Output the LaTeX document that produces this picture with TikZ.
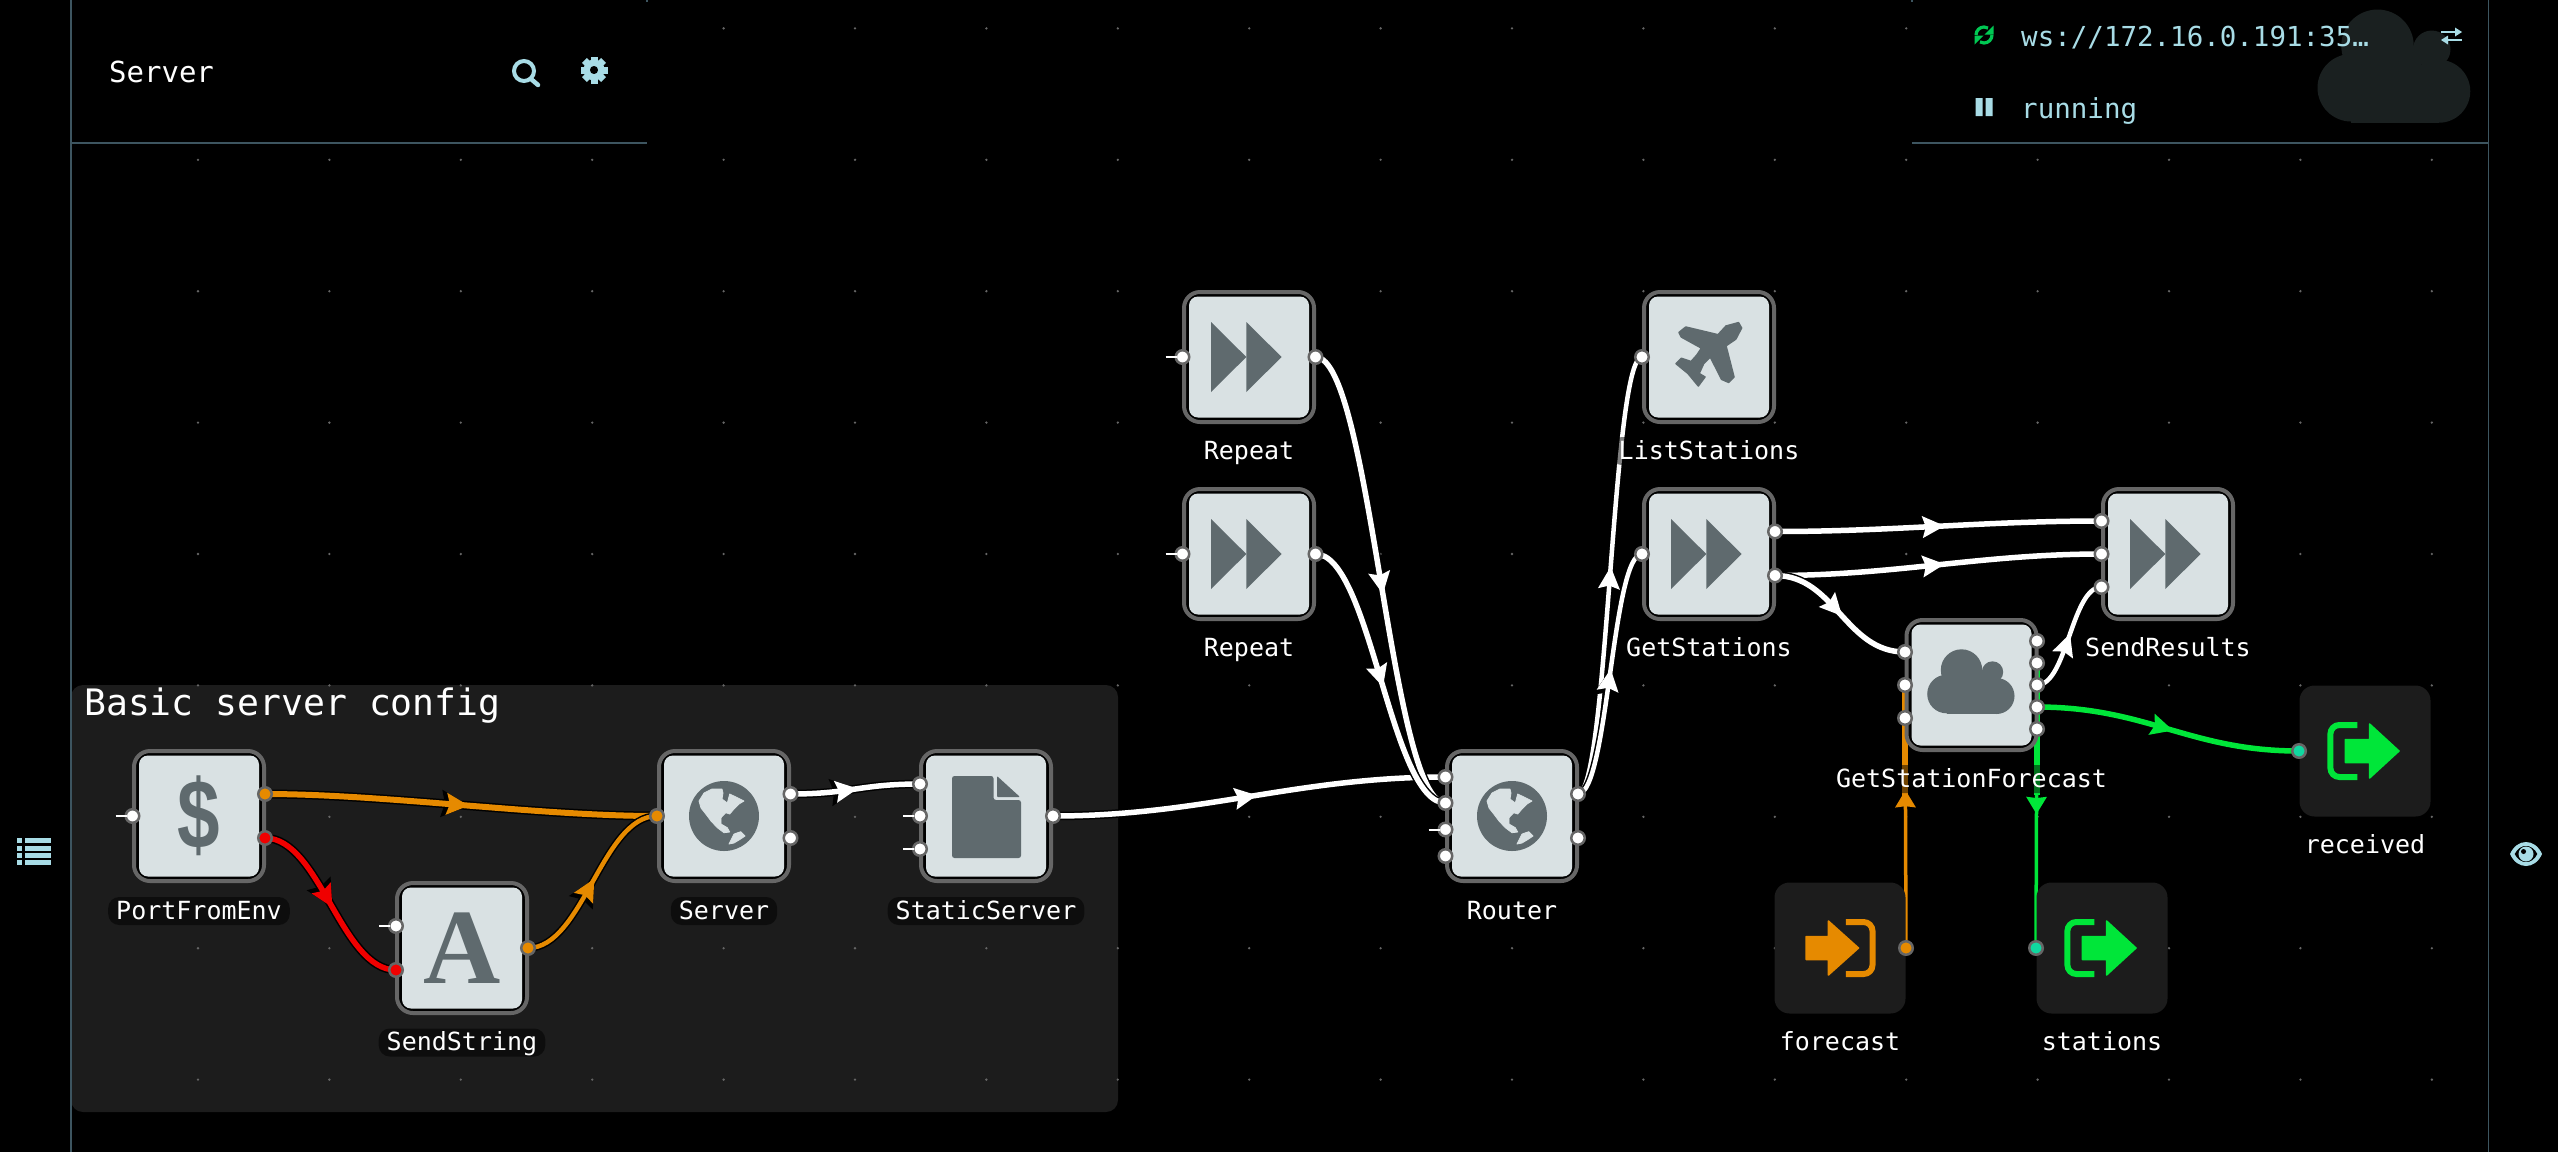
\documentclass[tikz,border=0pt]{standalone}
\usepackage{fontspec}
\setmainfont{DejaVu Sans Mono}
\newfontfamily\serifglyph{Liberation Serif}
\newfontfamily\sansglyph{Liberation Sans}
\usetikzlibrary{arrows.meta,decorations.markings}
\pgfdeclarelayer{bgl}
\pgfdeclarelayer{edges}
\pgfsetlayers{bgl,edges,main}
\definecolor{nodefill}{HTML}{D9E1E3}
\definecolor{icongrey}{HTML}{5F6A6E}
\definecolor{ringgrey}{HTML}{666666}
\definecolor{grp}{HTML}{1C1C1C}
\definecolor{uiblue}{HTML}{A8DCE6}
\definecolor{linegrey}{HTML}{3D5560}
\definecolor{eorange}{HTML}{E68A00}
\definecolor{ered}{HTML}{F00000}
\definecolor{egreen}{HTML}{00E639}
\definecolor{eteal}{HTML}{10D8A0}
\definecolor{bgcloud}{HTML}{1A2020}
\definecolor{syncgreen}{HTML}{00C853}
\tikzset{
  nodebox/.style={draw=ringgrey,fill=black,line width=4pt,minimum size=130pt,rounded corners=16pt,inner sep=0pt},
  nodeinner/.style={fill=nodefill,minimum width=120pt,minimum height=121pt,rounded corners=9pt,inner sep=0pt},
  exportbox/.style={fill=grp,minimum width=131pt,minimum height=131pt,rounded corners=15pt,inner sep=0pt},
  portdot/.style={circle,fill=white,draw=ringgrey,line width=2.5pt,minimum size=13.5pt,inner sep=0pt},
  nodelabel/.style={fill=black,fill opacity=.5,text opacity=1,text=white,rounded corners=11pt,inner xsep=8pt,inner ysep=0pt,
     minimum height=28pt,text height=18pt,text depth=2pt,font=\fontsize{25}{30}\selectfont},
  stub/.style={draw=white,line width=2pt},
  uitext/.style={text=uiblue,inner sep=0pt,anchor=base west,font=\fontsize{27.5}{32}\selectfont},
}
% wire: colour, from, to, handle, arrow position, width
\newcommand{\wire}[6]{%
  \begin{pgfonlayer}{edges}
  \draw[black,line width=#6pt+3pt,decoration={markings,mark=at position #5 with {\arrow{Stealth[length=27pt,width=26pt,inset=3pt]}}},postaction={decorate}]
     (#2.center) .. controls +(#4,0) and +(-#4,0) .. (#3.center);
  \draw[#1,line width=#6pt,decoration={markings,mark=at position #5 with {\arrow{Stealth[length=22pt,width=21pt,inset=3pt]}}},postaction={decorate}]
     (#2.center) .. controls +(#4,0) and +(-#4,0) .. (#3.center);
  \end{pgfonlayer}}
% straight wire: colour, from, to, arrow position, width
\newcommand{\straightwire}[5]{%
  \begin{pgfonlayer}{edges}
  \draw[#1,line width=#5pt,decoration={markings,mark=at position #4 with {\arrow{Stealth[length=17pt,width=20pt,inset=1pt]}}},postaction={decorate}]
     (#2.center) -- (#3.center);
  \end{pgfonlayer}}
\newcommand{\flowbox}[3]{%
  \node[nodebox] (#1) at (#2,#3) {};
  \node[nodeinner] (#1-in) at (#2,#3) {};}
\newcommand{\portat}[4][white]{\node[portdot,fill=#1] (#2) at (#3,#4) {};}
\newcommand{\stubat}[1]{\draw[stub] ([xshift=-17pt]#1.center) -- ([xshift=-6pt]#1.center);}
\newcommand{\ffwd}[2]{\begin{scope}[shift={(#1,#2)}]
  \fill[icongrey] (-38,-35) -- (-2.7,0) -- (-38,35) -- cycle;
  \fill[icongrey] (-2.7,-35) -- (32.6,0) -- (-2.7,35) -- cycle;
\end{scope}}
\newcommand{\globe}[2]{\begin{scope}[shift={(#1,#2)}]
  \fill[icongrey] (0,0) circle[radius=35];
  \filldraw[nodefill,line width=.8pt,line join=round] (-25,-15) -- (-20,-23) -- (-12,-27) -- (-2,-27) -- (-1,-23) -- (-2,-17) -- (3.3,-13) -- (5.7,-22) -- (12,-19) -- (20,-15) -- (15,-12) -- (10,-7) -- (5.7,-2) -- (1.7,-3.3) -- (-3,1.7) -- (-3,8) -- (3.3,11.7) -- (5.7,16) -- (0,16.7) -- (-6.7,11.7) -- (-13,5) -- (-18,-1.7) -- (-23,-8) -- cycle;
  \filldraw[nodefill,line width=.8pt,line join=round] (5,28) -- (10,18) -- (16.7,15.7) -- (21,20) -- (15,24) -- (10,27) -- cycle;
\end{scope}}
\newcommand{\cloudicon}[4]{\begin{scope}[shift={(#1,#2)},scale=#3]
  \fill[#4] (-25,9) circle[radius=19.3];
  \fill[#4] (-10,-15) circle[radius=20.7];
  \fill[#4] (21,-13) circle[radius=10.7];
  \fill[#4] (25,11) circle[radius=18];
  \fill[#4] (-25,0) rectangle (25,29);
  \fill[#4] (-15,-15) rectangle (15,10);
\end{scope}}
\newcommand{\exiticon}[3]{\begin{scope}[shift={(#1,#2)}]
  \draw[#3,line width=6pt,rounded corners=9pt] (-7.7,-26) -- (-34.6,-26) -- (-34.6,26) -- (-7.7,26);
  \filldraw[#3,line width=1.5pt,line join=round] (-19.6,-11.5) -- (4.6,-11.5) -- (4.6,-27) -- (34,0) -- (4.6,27) -- (4.6,11.5) -- (-19.6,11.5) -- cycle;
\end{scope}}
\begin{document}
\begin{tikzpicture}[x=1pt,y=-1pt]
\useasboundingbox (0,0) rectangle (2558,1152);
\begin{pgfonlayer}{bgl}
  \fill[black] (0,0) rectangle (2558,1152);
  \fill[grp] (71,685) [rounded corners=12pt] rectangle (1118,1112);
  \foreach \k in {-10,...,7} \foreach \j in {-4,...,4}
    \fill[white!40!black] ({1512+131.4*\k},{554+131.4*\j}) circle[radius=1.3];
  \fill[black] (71,0) rectangle (647,143);
  \fill[black] (1912,0) rectangle (2488,143);
\end{pgfonlayer}

% frame
\draw[linegrey,line width=1.5pt] (71,0) -- (71,1152);
\draw[linegrey,line width=1.5pt] (2488.5,0) -- (2488.5,1152);
\draw[linegrey,line width=2pt] (71,143) -- (647,143);
\draw[linegrey,line width=2pt] (1912,143) -- (2488,143);
\draw[linegrey,line width=2pt] (647,0) -- (647,2);
\draw[linegrey,line width=2pt] (1912,0) -- (1912,2);

% top left panel
\node[text=white,inner sep=0pt,anchor=base west,font=\fontsize{29}{34}\selectfont] (title) at (109,82) {Server};
\draw[uiblue,line width=4pt] (524,71) circle[radius=10];
\draw[uiblue,line width=4.5pt,line cap=round] (531,79) -- (538,85);
\foreach \a in {0,45,...,315}
  \fill[uiblue,rotate around={\a:(594,70)}] (590.5,56.5) rectangle (597.5,64);
\fill[uiblue,even odd rule] (594,70) circle[radius=10.5] (594,70) circle[radius=4.2];

% top right panel
\cloudicon{2395}{72}{1.75}{bgcloud}
\node[uitext] (wsurl) at (2021,46) {ws://172.16.0.191:35…};
\node[uitext] (state) at (2021,118) {running};
\draw[syncgreen,line width=3.2pt] (1976,35) arc[start angle=180,end angle=300,radius=8];
\draw[syncgreen,line width=3.2pt] (1992,35) arc[start angle=0,end angle=120,radius=8];
\fill[syncgreen] (1993.5,25.5) -- (1993.5,34.5) -- (1984.5,34.5) -- cycle;
\fill[syncgreen] (1974.5,44.5) -- (1974.5,35.5) -- (1983.5,35.5) -- cycle;
\fill[uiblue] (1975.5,98) rectangle (1982.5,116) (1985.5,98) rectangle (1992.5,116);
\draw[uiblue,line width=2.6pt] (2441,32) -- (2460,32);
\fill[uiblue] (2455,27.5) -- (2462,32) -- (2455,36.5) -- cycle;
\draw[uiblue,line width=2.6pt] (2443,40) -- (2462,40);
\fill[uiblue] (2448,35.5) -- (2441,40) -- (2448,44.5) -- cycle;

% side icons
\foreach \yy in {838,845.5,852.7,860}{
  \fill[uiblue] (17,\yy) rectangle (22,\yy+5);
  \fill[uiblue] (25,\yy) rectangle (51,\yy+5);
}
\fill[uiblue,even odd rule] (2510,854) .. controls (2517,838) and (2535,838) .. (2542,854) .. controls (2535,870) and (2517,870) .. (2510,854) -- cycle
  (2514.5,854) .. controls (2520,843) and (2532,843) .. (2537.5,854) .. controls (2532,865) and (2520,865) .. (2514.5,854) -- cycle;
\fill[uiblue] (2526,854) circle[radius=7.5];
\fill[black] (2523.5,851.5) circle[radius=2.5];

% group title
\node[text=white,inner sep=0pt,anchor=base west,font=\fontsize{36.4}{42}\selectfont] (grouptitle) at (84,715) {Basic server config};

% process nodes
\flowbox{portenv}{199}{816}
\flowbox{sendstr}{462}{948}
\flowbox{server}{724}{816}
\flowbox{static}{986}{816}
\flowbox{repeatA}{1249}{357}
\flowbox{repeatB}{1249}{554}
\flowbox{router}{1512}{816}
\flowbox{liststa}{1709}{357}
\flowbox{getsta}{1709}{554}
\flowbox{sendres}{2168}{554}
\flowbox{forecastnode}{1971.5}{685}
% exported ports
\node[exportbox] (expforecast) at (1840,948) {};
\node[exportbox] (expstations) at (2102,948) {};
\node[exportbox] (expreceived) at (2365,751) {};

% icons
\node[text=icongrey,inner sep=0pt,font=\sansglyph\bfseries\fontsize{98}{100}\selectfont] (dollar) at (199,816) {\scalebox{.78}[1]{\$}};
\node[text=icongrey,inner sep=0pt,anchor=base,font=\serifglyph\bfseries\fontsize{107}{110}\selectfont] (letterA) at (462,983) {A};
\globe{724}{816}
\globe{1512}{816}
\begin{scope}[shift={(986,816)}]
  \fill[icongrey,rounded corners=2.5pt] (-34,-40) -- (7.5,-40) -- (7.5,-16) -- (35,-16) -- (35,42) -- (-34,42) -- cycle;
  \fill[icongrey,rounded corners=1pt] (11,-40) -- (34,-19) -- (11,-19) -- cycle;
\end{scope}
\ffwd{1249}{357}
\ffwd{1249}{554}
\ffwd{1709}{554}
\ffwd{2168}{554}
\begin{scope}[shift={(1709,357)}]
  \filldraw[icongrey,line width=1.5pt,line join=round] (29.5,-34.4) -- (32.6,-29) -- (26.8,-17.9) -- (17,-11.2) -- (25,20) -- (19.6,25.4) -- (12.5,22.3) -- (1.3,0) -- (-5.4,6.7) -- (-9.8,16.5) -- (-4,20) -- (-10.7,29) -- (-21,16.5) -- (-33,6.7) -- (-27.7,1.3) -- (-17.9,4.5) -- (-12,-2.2) -- (-7.6,-8.9) -- (-27.7,-20) -- (-30,-24.6) -- (-23.2,-30) -- (9,-22.3) -- (17,-31) -- cycle;
\end{scope}
\cloudicon{1971.5}{685}{1}{icongrey}
% forecast: arrow enters a bracket
\begin{scope}[shift={(1840,948)}]
  \draw[eorange,line width=6pt,rounded corners=9pt] (5.9,-26) -- (32.5,-26) -- (32.5,26) -- (5.9,26);
  \filldraw[eorange,line width=1.5pt,line join=round] (-34,-11.5) -- (-11.6,-11.5) -- (-11.6,-27) -- (18.5,0) -- (-11.6,27) -- (-11.6,11.5) -- (-34,11.5) -- cycle;
\end{scope}
\exiticon{2102}{948}{egreen}
\exiticon{2365}{751}{egreen}

% ports
\portat{peIn}{132.5}{816}\stubat{peIn}
\portat[eorange]{peOutA}{265}{794}
\portat[ered]{peOutB}{265}{838}
\portat{ssInA}{396}{926}\stubat{ssInA}
\portat[ered]{ssInB}{396}{970}
\portat[eorange]{ssOut}{528}{948}
\portat[eorange]{svIn}{657}{816}
\portat{svOutA}{790.5}{794}
\portat{svOutB}{790.5}{838}
\portat{stInA}{920}{784}
\portat{stInB}{920}{816}\stubat{stInB}
\portat{stInC}{920}{849}\stubat{stInC}
\portat{stOut}{1053}{816}
\portat{raIn}{1182.5}{357}\stubat{raIn}
\portat{raOut}{1315.5}{357}
\portat{rbIn}{1182.5}{554}\stubat{rbIn}
\portat{rbOut}{1315.5}{554}
\portat{roInA}{1445.5}{777}
\portat{roInB}{1445.5}{803}
\portat{roInC}{1445.5}{829.5}\stubat{roInC}
\portat{roInD}{1445.5}{856}
\portat{roOutA}{1578}{794}
\portat{roOutB}{1578}{838}
\portat{lsIn}{1642}{357}
\portat{gsIn}{1642}{554}
\portat{gsOutA}{1775}{531.5}
\portat{gsOutB}{1775}{575.5}
\portat{srInA}{2101.5}{521}
\portat{srInB}{2101.5}{554}
\portat{srInC}{2101.5}{587}
\portat{fcInA}{1905}{652}
\portat{fcInB}{1905}{685}
\portat{fcInC}{1905}{718}
\portat{fcOutA}{2037}{641}
\portat{fcOutB}{2037}{663}
\portat{fcOutC}{2037}{685}
\portat{fcOutD}{2037}{707}
\portat{fcOutE}{2037}{729}
\portat[eorange]{xfOut}{1906}{948}
\portat[eteal]{xsIn}{2036}{948}
\portat[eteal]{xrIn}{2299}{751}

% labels
\node[nodelabel] (lb1) at (199,911) {PortFromEnv};
\node[nodelabel] (lb2) at (462,1042.5) {SendString};
\node[nodelabel] (lb3) at (724,911) {Server};
\node[nodelabel] (lb4) at (986,911) {StaticServer};
\node[nodelabel] (lb5) at (1249,451) {Repeat};
\node[nodelabel] (lb6) at (1249,648) {Repeat};
\node[nodelabel] (lb7) at (1512,911) {Router};
\node[nodelabel] (lb8) at (1709,451) {ListStations};
\node[nodelabel] (lb9) at (1709,648) {GetStations};
\node[nodelabel] (lb10) at (2168,648) {SendResults};
\node[nodelabel] (lb11) at (1971.5,779) {GetStationForecast};
\node[nodelabel] (lb12) at (1840,1042.5) {forecast};
\node[nodelabel] (lb13) at (2102,1042.5) {stations};
\node[nodelabel] (lb14) at (2365,845) {received};

% edges
\wire{eorange}{peOutA}{svIn}{120}{.52}{6}
\wire{ered}{peOutB}{ssInB}{55}{.52}{5.5}
\wire{eorange}{ssOut}{svIn}{55}{.52}{4.5}
\wire{white}{svOutA}{stInA}{60}{.52}{5.5}
\wire{white}{stOut}{roInA}{150}{.52}{5.5}
\wire{white}{raOut}{roInB}{55}{.53}{5.5}
\wire{white}{rbOut}{roInB}{55}{.53}{5.5}
\wire{white}{roOutA}{lsIn}{30}{.52}{4.5}
\wire{white}{roOutA}{gsIn}{30}{.52}{4.5}
\wire{white}{gsOutA}{srInA}{120}{.52}{5.5}
\wire{white}{gsOutB}{srInB}{120}{.52}{5.5}
\wire{white}{gsOutB}{fcInA}{60}{.52}{5.5}
\wire{white}{fcOutC}{srInC}{30}{.52}{4.5}
\wire{egreen}{fcOutD}{xrIn}{110}{.52}{5.5}
\straightwire{eorange}{xfOut}{fcInB}{.6}{3.5}
\straightwire{egreen}{fcOutB}{xsIn}{.53}{3.5}
\begin{pgfonlayer}{edges}
\draw[eorange,line width=6pt] (fcInB.center) -- ([yshift=-121pt]fcInB.center);
\draw[egreen,line width=6pt] (fcOutB.center) -- ([yshift=-132pt]fcOutB.center);
\end{pgfonlayer}
\end{tikzpicture}
\end{document}
